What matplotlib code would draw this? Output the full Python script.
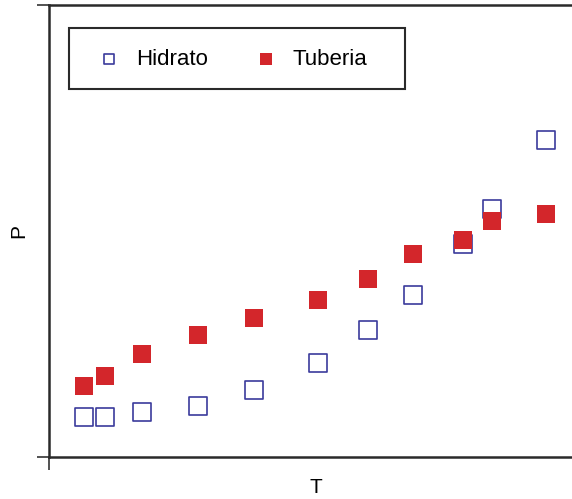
import matplotlib.pyplot as plt
from matplotlib.patches import Rectangle

plt.rcParams['font.family'] = ['Liberation Sans', 'DejaVu Sans']

T = [0.70, 1.12, 1.86, 2.98, 4.10, 5.38, 6.38, 7.28, 8.28, 8.86, 9.94]
P_hidrato = [0.885, 0.885, 0.996, 1.128, 1.482, 2.08, 2.81, 3.584, 4.71, 5.487, 7.013]
P_tuberia = [1.571, 1.792, 2.279, 2.699, 3.075, 3.473, 3.938, 4.491, 4.801, 5.221, 5.376]

fig = plt.figure(figsize=(5.72, 4.99), dpi=100)
ax = fig.add_axes([49 / 572, 42 / 499, 523 / 572, 452 / 499])

ax.scatter(T, P_hidrato, marker='s', s=150, facecolors='white',
           edgecolors='#3b3b9c', linewidths=1.2, label='Hidrato', zorder=3)
ax.scatter(T, P_tuberia, marker='s', s=175, color='#d3262b',
           linewidths=0, label='Tuberia', zorder=3)

ax.set_xlim(0, 10.46)
ax.set_ylim(0, 10)
ax.set_xticks([0])
ax.set_yticks([0, 10])
ax.set_xticklabels([])
ax.set_yticklabels([])
ax.tick_params(direction='out', length=9, width=1.2, color='#333333')
ax.spines['right'].set_visible(False)
for s in ['left', 'top', 'bottom']:
    ax.spines[s].set_linewidth(1.8)
    ax.spines[s].set_color('#2a2a2a')

ax.set_xlabel('T', fontsize=15)
ax.set_ylabel('P', fontsize=15)
ax.xaxis.set_label_coords((316 - 49) / 523, (457 - 478) / 452)
ax.yaxis.set_label_coords((28 - 49) / 523, 0.5)

# legend box drawn separately so its size matches
ax.add_patch(Rectangle((20 / 523, (457 - 89) / 452), 336 / 523, 61 / 452,
                       transform=ax.transAxes, fill=False, edgecolor='#2a2a2a',
                       linewidth=1.5, zorder=4))
leg = ax.legend(ncol=2, loc='upper left', bbox_to_anchor=(20 / 523, 1 - 26 / 452),
                fontsize=16, markerscale=0.6, frameon=False,
                handletextpad=0.2, columnspacing=1.62,
                borderpad=0.8, handlelength=2.0, borderaxespad=0)

fig.savefig('out.png', dpi=100)
